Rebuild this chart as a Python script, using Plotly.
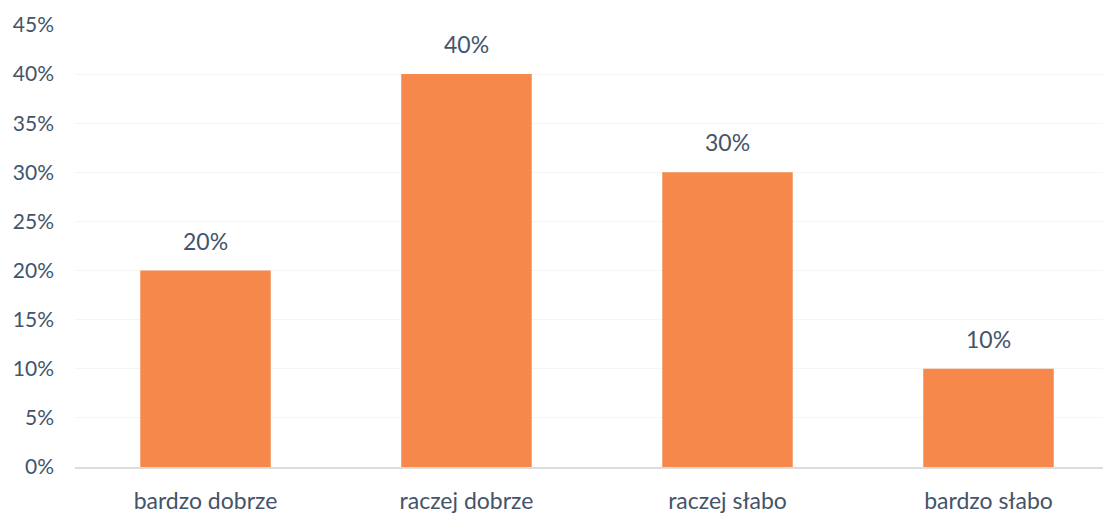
import plotly.graph_objects as go

categories = ["bardzo dobrze", "raczej dobrze", "raczej słabo", "bardzo słabo"]
values = [0.20, 0.40, 0.30, 0.10]
tick_vals = [0, 0.05, 0.10, 0.15, 0.20, 0.25, 0.30, 0.35, 0.40, 0.45]
tick_text = ["0%", "5%", "10%", "15%", "20%", "25%", "30%", "35%", "40%", "45%"]
labels = [f"{int(round(v*100))}%" for v in values]

xs = list(range(len(categories)))
fig = go.Figure(go.Bar(
    x=xs, y=values,
    marker=dict(color="#F5884A", line=dict(width=0)),
    width=0.5,
))
for x, v, t in zip(xs, values, labels):
    fig.add_annotation(x=x, y=v, text=t, showarrow=False, yanchor="bottom",
                       yshift=14, font=dict(size=23, color="#44546A", family="Lato"))
fig.update_layout(
    width=1111, height=515,
    margin=dict(l=67, r=0, t=17, b=56),
    paper_bgcolor="white", plot_bgcolor="white",
    showlegend=False,
    font=dict(family="Lato", size=21, color="#44546A"),
    xaxis=dict(
        tickmode="array", tickvals=xs, ticktext=categories,
        range=[-0.5, 3.5], showgrid=False, showline=True, linecolor="#DCDCDC",
        linewidth=2, ticks="", tickfont=dict(size=23, color="#44546A"), zeroline=False,
        ticklabelstandoff=12,
    ),
    yaxis=dict(
        range=[0, 0.45], tickvals=tick_vals, ticktext=tick_text,
        showgrid=True, gridcolor="#F5F5F5", zeroline=False, ticks="",
        ticklabelstandoff=20, tickfont=dict(size=21, color="#44546A"),
    ),
)
fig.write_html("out.html")
